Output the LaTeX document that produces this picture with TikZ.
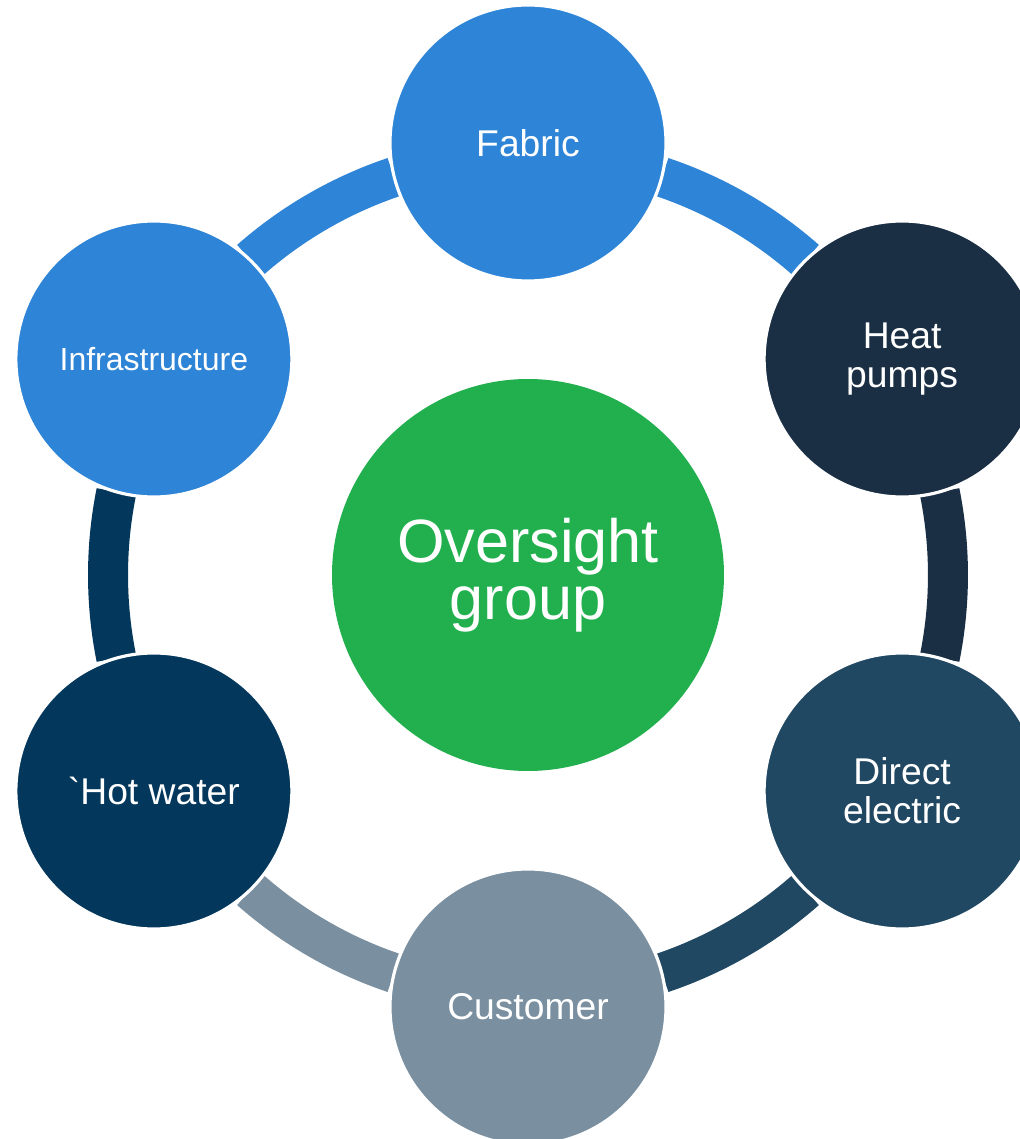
\documentclass[tikz,border=0pt]{standalone}
\usepackage{fontspec}
\setmainfont{Liberation Sans}[Ligatures=TeXOff]
\usetikzlibrary{calc}

\definecolor{azulclaro}{HTML}{2E84D6}
\definecolor{marino}{HTML}{1B2F44}
\definecolor{pizarra}{HTML}{214863}
\definecolor{grisazul}{HTML}{7A90A0}
\definecolor{azulosc}{HTML}{03375C}
\definecolor{verde}{HTML}{22B04E}

\tikzset{
  tema/.style={circle, draw=white, line width=0.9pt, minimum size=2.76cm, inner sep=0pt,
    text=white, align=center, font=\fontsize{10.6}{11.2}\selectfont},
  anillo/.style={line width=0.4cm},
}

\begin{document}
\begin{tikzpicture}
  \useasboundingbox (0,0) rectangle (10.2,11.39);
  \clip (0,0) rectangle (10.2,11.39);

  % Circulo central
  \node[circle, fill=verde, minimum size=3.92cm, inner sep=0pt, text=white, align=center,
    font=\fontsize{17.4}{16.2}\selectfont] (grupo) at (5.28,5.64) {Oversight\\group};

  % Arco Fabric -> Heat pumps
  \draw[anillo, azulclaro] ($(grupo)+(71.4:4.2)$) arc[start angle=71.4, end angle=48.6, radius=4.2];

  % Arco Heat pumps -> Direct electric
  \draw[anillo, marino] ($(grupo)+(11.4:4.2)$) arc[start angle=11.4, end angle=-11.4, radius=4.2];

  % Arco Direct electric -> Customer
  \draw[anillo, pizarra] ($(grupo)+(-48.6:4.2)$) arc[start angle=-48.6, end angle=-71.4, radius=4.2];

  % Arco Customer -> Hot water
  \draw[anillo, grisazul] ($(grupo)+(-108.6:4.2)$) arc[start angle=-108.6, end angle=-131.4, radius=4.2];

  % Arco Hot water -> Infrastructure
  \draw[anillo, azulosc] ($(grupo)+(-168.6:4.2)$) arc[start angle=-168.6, end angle=-191.4, radius=4.2];

  % Arco Infrastructure -> Fabric
  \draw[anillo, azulclaro] ($(grupo)+(131.4:4.2)$) arc[start angle=131.4, end angle=108.6, radius=4.2];

  % Circulos exteriores
  \node[tema, fill=azulclaro] (fabric) at ($(grupo)+(90:4.32)$) {Fabric};
  \node[tema, fill=marino] (bombas) at ($(grupo)+(30:4.32)$) {Heat\\pumps};
  \node[tema, fill=pizarra] (directo) at ($(grupo)+(-30:4.32)$) {Direct\\electric};
  \node[tema, fill=grisazul] (cliente) at ($(grupo)+(-90:4.32)$) {Customer};
  \node[tema, fill=azulosc] (agua) at ($(grupo)+(-150:4.32)$) {`Hot water};
  \node[tema, fill=azulclaro, font=\fontsize{9.1}{9.1}\selectfont] (infra) at ($(grupo)+(150:4.32)$) {Infrastructure};

\end{tikzpicture}
\end{document}
